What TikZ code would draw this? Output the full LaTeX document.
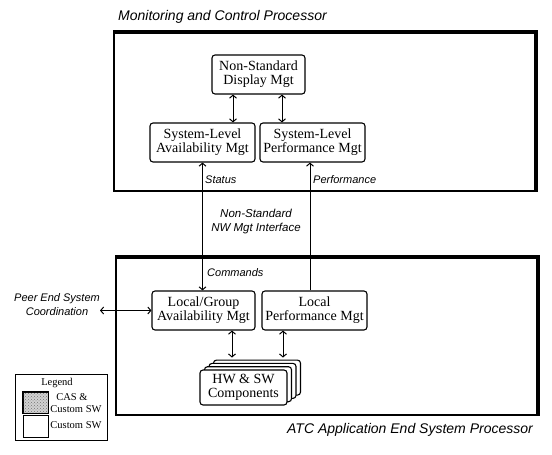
\documentclass[tikz,border=0pt]{standalone}
\usepackage{fontspec}
\setmainfont{Liberation Serif}
\newfontfamily\lblfont{Liberation Sans}
\usetikzlibrary{arrows.meta,patterns}
\begin{document}
\begin{tikzpicture}[x=1pt,y=-1pt,
  box/.style={draw, line width=1.1pt, rounded corners=3pt, fill=white, inner sep=0pt,
    align=center, font=\fontsize{14}{14}\selectfont},
  frame/.style={draw, line width=1.3pt, inner sep=0pt},
  heavy/.style={line width=4pt},
  lbl/.style={font=\lblfont\itshape\fontsize{11}{14}\selectfont, inner sep=0pt, align=center},
  biglbl/.style={font=\lblfont\itshape\fontsize{14}{14}\selectfont, inner sep=0pt},
  legtxt/.style={font=\fontsize{10.5}{12}\selectfont, inner sep=0pt},
  barb/.tip={Straight Barb[length=3pt,width=7pt,line width=1pt]},
  dbl/.style={line width=1pt, barb-barb},
  sgl/.style={line width=1pt, -barb},
]
\useasboundingbox (0,0) rectangle (552,455);

% ---- Monitoring and Control Processor ----
\node[biglbl, anchor=west] (mcptitle) at (118,17) {Monitoring and Control Processor};
\node[frame, minimum width=421pt, minimum height=158pt] (mcp) at (324.5,112) {};
\draw[heavy] (mcp.north west) -- (mcp.north east) -- (mcp.south east);

\node[box, minimum width=93pt, minimum height=39pt] (nsd) at (258.5,74.5) {Non-Standard\\Display Mgt};
\node[box, minimum width=105pt, minimum height=39pt] (sla) at (202.5,142.5) {System-Level\\Availability Mgt};
\node[box, minimum width=105pt, minimum height=39pt] (slp) at (312.5,142.5) {System-Level\\Performance Mgt};

\draw[dbl] ([xshift=-25.5pt]nsd.south) -- ([xshift=-25.5pt]nsd.south |- sla.north);
\draw[dbl] ([xshift=23.5pt]nsd.south) -- ([xshift=23.5pt]nsd.south |- slp.north);

% ---- ATC Application End System Processor ----
\node[frame, minimum width=421pt, minimum height=157pt] (atc) at (326.5,336.5) {};
\draw[heavy] (atc.north west) -- (atc.north east) -- (atc.south east);
\node[biglbl, anchor=east] (atctitle) at (533,430) {ATC Application End System Processor};

\node[box, minimum width=103pt, minimum height=39pt] (lga) at (203.5,310.5) {Local/Group\\Availability Mgt};
\node[box, minimum width=105pt, minimum height=39pt] (lp) at (314.5,310.5) {Local\\Performance Mgt};

% HW & SW stack
\node[box, minimum width=87pt, minimum height=35pt] (hw3) at (257,377.6) {};
\node[box, minimum width=87pt, minimum height=35pt] (hw2) at (252.5,380.9) {};
\node[box, minimum width=87pt, minimum height=35pt] (hw1) at (248,384.2) {};
\node[box, minimum width=87pt, minimum height=35pt] (hw) at (243.5,387.5) {HW \& SW\\Components};

\draw[dbl, shorten >=2pt] ([xshift=28.5pt]lga.south) -- ([xshift=28.5pt]lga.south |- hw3.north);
\draw[dbl, shorten >=2pt] ([xshift=-31.5pt]lp.south) -- ([xshift=-31.5pt]lp.south |- hw3.north);

% ---- interface connectors ----
\draw[dbl] (sla.south) -- (sla.south |- lga.north);
\draw[sgl] ([xshift=-2.5pt]slp.south |- lp.north) -- ([xshift=-2.5pt]slp.south);

\node[lbl, anchor=west] (status) at (205,180) {Status};
\node[lbl, anchor=west] (perf) at (313,180) {Performance};
\node[lbl, font=\lblfont\itshape\fontsize{11.5}{14}\selectfont] (nsif) at (256,222) {Non-Standard\\NW Mgt Interface};
\node[lbl, anchor=west] (cmds) at (207,273) {Commands};

% ---- Peer coordination ----
\node[lbl] (peer) at (57,305) {Peer End System\\Coordination};
\coordinate (peerend) at (100,310.5);
\draw[dbl] (peerend) -- (lga.west);

% ---- Legend ----
\node[draw, line width=1pt, minimum width=92pt, minimum height=66pt, inner sep=0pt] (legend) at (61,407) {};
\node[legtxt] (legtitle) at (57,383) {Legend};
\node[draw, line width=1pt, fill=gray!35, minimum width=25pt, minimum height=21pt, inner sep=0pt] (shade) at (35.5,402.5) {};
\fill[pattern=crosshatch dots, pattern color=gray!90!black] (shade.south west) rectangle (shade.north east);
\draw[line width=1pt] (shade.south west) rectangle (shade.north east);
\node[legtxt] (cas) at (72,397) {CAS \&};
\node[legtxt] (cas2) at (76,409) {Custom SW};
\node[draw, line width=1pt, minimum width=25pt, minimum height=22pt, inner sep=0pt] (plain) at (35.5,426) {};
\node[legtxt] (cust) at (76,425.5) {Custom SW};
\end{tikzpicture}
\end{document}
